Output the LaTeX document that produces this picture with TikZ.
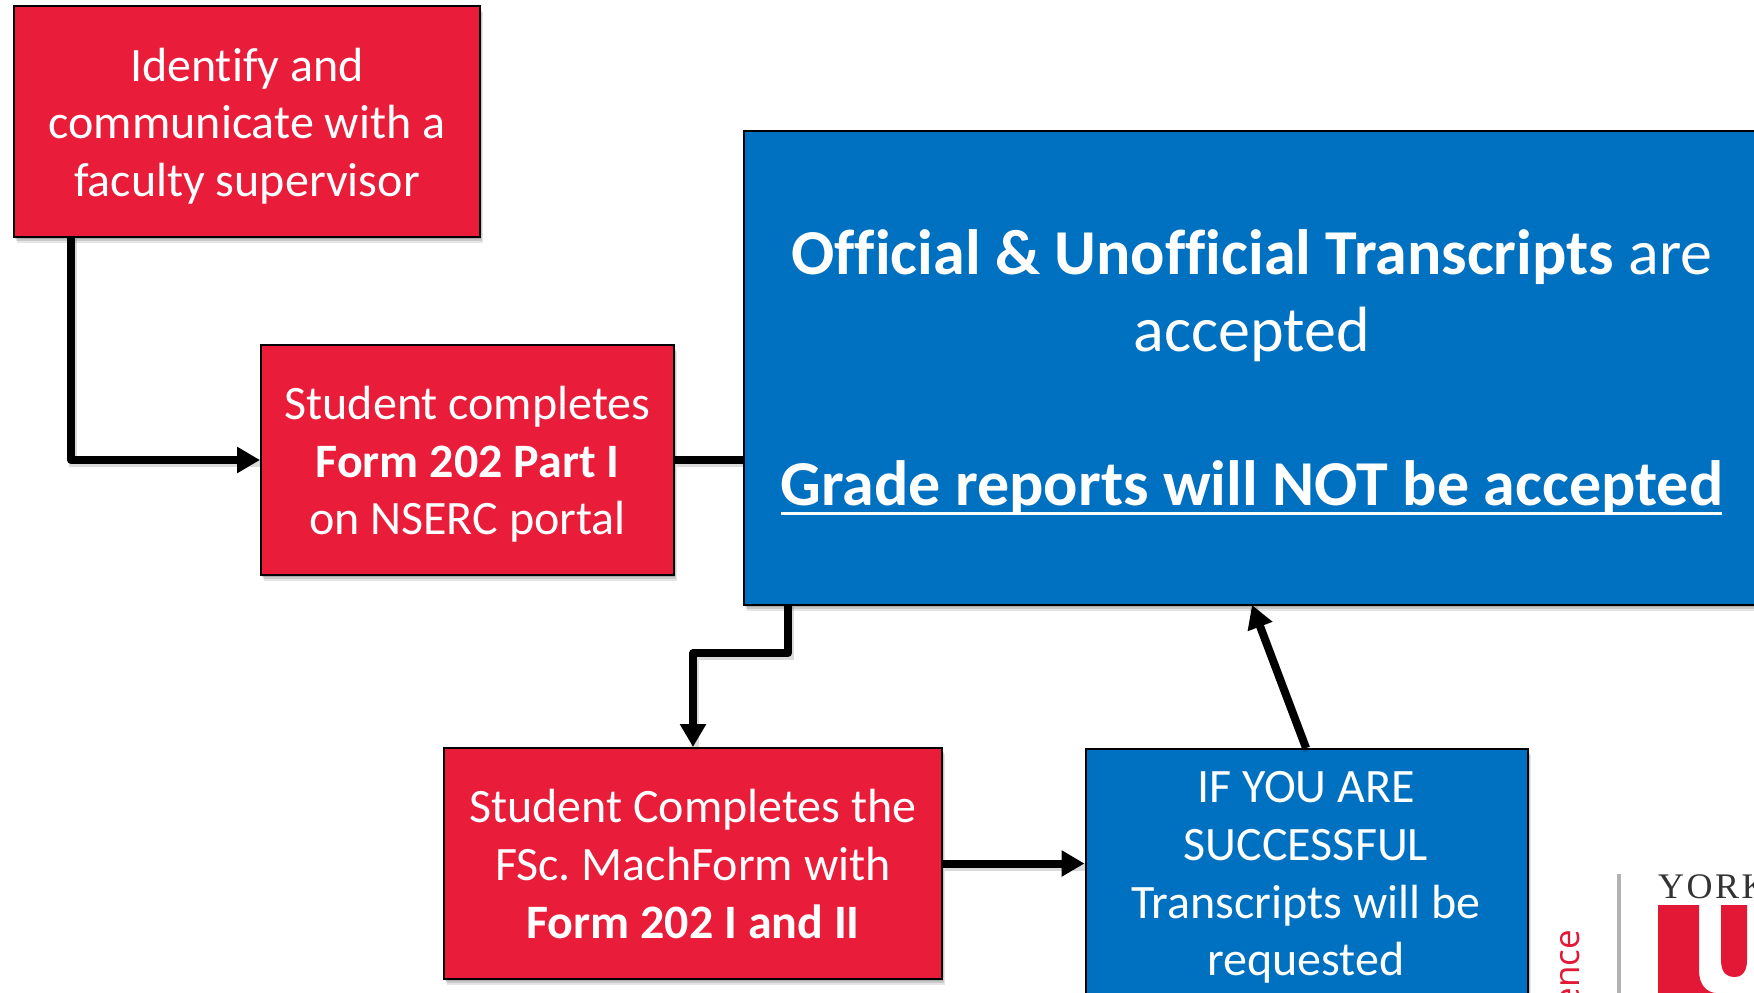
\documentclass[tikz,border=0pt]{standalone}
\usepackage{fontspec}
\setmainfont[Ligatures=NoCommon]{Carlito}
\newfontfamily\logosans{Open Sans}
\newfontfamily\logoserif[LetterSpace=7]{Liberation Serif}
\usetikzlibrary{shadows,arrows.meta,calc}
\definecolor{yred}{HTML}{E91C39}
\definecolor{yblue}{HTML}{0070C0}
\definecolor{lred}{HTML}{E31837}
\frenchspacing
\tikzset{
  softshadow/.style={
    preaction={fill=black,opacity=.14,transform canvas={xshift=1pt,yshift=-2pt}},
    preaction={fill=black,opacity=.12,transform canvas={xshift=2pt,yshift=-4pt}},
    preaction={fill=black,opacity=.10,transform canvas={xshift=3pt,yshift=-6pt}}},
  box/.style={draw=black,line width=2pt,inner sep=0pt,align=center,text=white,softshadow},
  redbox/.style={box,fill=yred},
  bluebox/.style={box,fill=yblue},
  bigbox/.style={box,fill=yblue},
  boxtext/.style={text=white,align=center,inner sep=0pt,font=\fontsize{48}{57.6}\selectfont},
  conn/.style={draw=black,line width=8pt,line join=round,-{Triangle[length=23pt,width=25pt]},
    preaction={draw=black,opacity=.14,line width=8pt,transform canvas={xshift=1.5pt,yshift=-3pt},arrows=-}},
  plainconn/.style={draw=black,line width=8pt,
    preaction={draw=black,opacity=.14,line width=8pt,transform canvas={xshift=1.5pt,yshift=-3pt}}},
  logotext/.style={inner sep=0pt}
}
\begin{document}
\begin{tikzpicture}[x=1pt,y=-1pt]
\useasboundingbox (0,0) rectangle (1754,993);
\clip (0,0) rectangle (1754,993);
\fill[white] (0,0) rectangle (1754,993);
% logo
\fill[lred] (1658,905) -- (1699,905) -- (1699,970) .. controls (1699,990) and (1712,993) .. (1716,993) -- (1658,993) -- cycle;
\fill[lred] (1721,905) -- (1747,905) -- (1747,960) .. controls (1747,976) and (1738,977) .. (1734,977) .. controls (1728,977) and (1721,974) .. (1721,960) -- cycle;
\fill[black!30] (1617,874) rectangle (1621,993);
\node[logotext,anchor=south west,text=black!80,font=\logoserif\fontsize{36}{36}\selectfont] (york) at (1658,899) {YORK};
\node[logotext,rotate=90,anchor=east,text=lred,font=\logosans\fontsize{35}{35}\selectfont] (ence) at (1570,930) {ence};
% boxes
\node[redbox,minimum width=466pt,minimum height=231pt] (identify) at (247,121) {};
\node[boxtext] (identifytext) at (247,126) {Identify and\\communicate with a\\faculty supervisor};
\node[redbox,minimum width=413pt,minimum height=230pt] (portal) at (467.5,460) {};
\node[boxtext] (portaltext) at (467.5,464.5) {Student completes\\\textbf{Form 202 Part I}\\on NSERC portal};
\node[redbox,minimum width=498pt,minimum height=231pt] (machform) at (693,863.5) {};
\node[boxtext] (machtext) at (693,864) {Student Completes the\\FSc. MachForm with\\\textbf{Form 202 I and II}};
\node[bluebox,minimum width=442pt,minimum height=282pt,anchor=north west] (success) at (1084.5,747.5) {};
\node[boxtext,anchor=north] (successtext) at (1306,771.5) {IF YOU ARE\\SUCCESSFUL\\Transcripts will be\\requested};
\node[bigbox,minimum width=1080pt,minimum height=474pt,anchor=north west] (big) at (743,129.5) {};
\node[text=white,align=center,inner sep=0pt,font=\fontsize{64}{77}\selectfont,anchor=north] (bigtext) at (1252,229.5) {\textbf{Official \& Unofficial Transcripts} are\\accepted\\[77pt]\textbf{Grade reports will NOT be accepted}};
\coordinate (ulL) at (781,513);
\coordinate (ulR) at (1722,513);
\draw[white,line width=3pt] (ulL) -- (ulR);
% connectors
\coordinate (a1) at (71,236);
\draw[conn] (a1) |- (portal.west);
\draw[plainconn] (portal.east) -- (portal.east -| big.west);
\coordinate (b1) at (788,604);
\coordinate (b2) at (788,653);
\coordinate (b3) at (693,653);
\draw[conn] (b1) -- (b2) -- (b3) -- (machform.north);
\draw[conn] (machform.east) -- (machform.east -| success.west);
\coordinate (c1) at (1306,748);
\coordinate (c2) at (1252,605);
\draw[conn] (c1) -- (c2);
\end{tikzpicture}
\end{document}
